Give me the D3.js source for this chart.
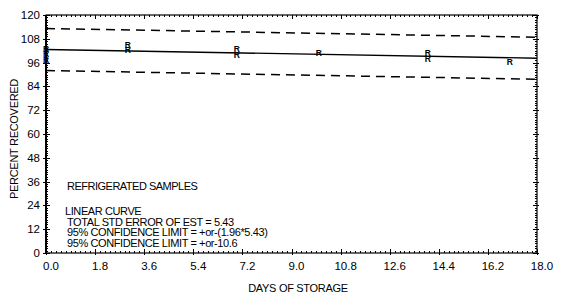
<!DOCTYPE html>
<html><head><meta charset="utf-8">
<script src="https://cdn.jsdelivr.net/npm/d3@7"></script>
<style>body{margin:0;background:#fff}svg{display:block}text{font-family:"Liberation Sans",Arial,sans-serif;fill:#000}</style>
</head><body><svg id="c" width="561" height="298"></svg>
<script>
const days = [0, 0, 0, 3, 3, 7, 7, 10, 14, 14, 17];
const recovered = [103, 100.5, 97.5, 105, 102.5, 103, 100, 101, 101, 98, 96.5];
const fitStart = 102.6, fitEnd = 98.2, confLimit = 10.6;
const xTicks = [0, 1.8, 3.6, 5.4, 7.2, 9.0, 10.8, 12.6, 14.4, 16.2, 18.0];
const yTicks = [0, 12, 24, 36, 48, 60, 72, 84, 96, 108, 120];
const notes = ["LINEAR CURVE", "TOTAL STD ERROR OF EST = 5.43", "95% CONFIDENCE LIMIT = +or-(1.96*5.43)", "95% CONFIDENCE LIMIT = +or-10.6"];

const svg = d3.select("#c");
const L = 46, R = 537, T = 15, B = 253;
const x = d3.scaleLinear().domain([0, 18]).range([L, R]);
const y = d3.scaleLinear().domain([0, 120]).range([B, T]);

// frame
svg.append("rect").attr("x", L).attr("y", T).attr("width", R - L).attr("height", B - T)
  .attr("fill", "none").attr("stroke", "#000").attr("stroke-width", 1.2);
svg.append("line").attr("x1", L).attr("x2", L).attr("y1", T).attr("y2", B).attr("stroke", "#000").attr("stroke-width", 2);

// minor ticks
const g = svg.append("g").attr("stroke", "#000").attr("stroke-width", 1);
d3.range(0, 120.01, 1.2).forEach(v => {
  const yy = Math.round(y(v)) + 0.5;
  g.append("line").attr("x1", L).attr("x2", L + 2).attr("y1", yy).attr("y2", yy);
  g.append("line").attr("x1", R - 2).attr("x2", R).attr("y1", yy).attr("y2", yy);
});
d3.range(0, 18.001, 0.18).forEach(v => {
  const xx = Math.round(x(v)) + 0.5;
  g.append("line").attr("x1", xx).attr("x2", xx).attr("y1", B - 2).attr("y2", B);
  g.append("line").attr("x1", xx).attr("x2", xx).attr("y1", T).attr("y2", T + 2);
});
// major ticks
yTicks.forEach(v => {
  const yy = Math.round(y(v)) + 0.5;
  g.append("line").attr("x1", L - 3).attr("x2", L + 4).attr("y1", yy).attr("y2", yy);
  g.append("line").attr("x1", R - 4).attr("x2", R + 2).attr("y1", yy).attr("y2", yy);
});
xTicks.forEach(v => {
  const xx = Math.round(x(v)) + 0.5;
  g.append("line").attr("x1", xx).attr("x2", xx).attr("y1", B - 4).attr("y2", B + 2);
  g.append("line").attr("x1", xx).attr("x2", xx).attr("y1", T).attr("y2", T + 4);
});

// tick labels
svg.append("g").selectAll("text").data(yTicks).join("text")
  .attr("x", 40).attr("y", d => y(d)).attr("dy", "0.35em").attr("text-anchor", "end")
  .attr("font-size", 11.5).text(d => d);
svg.append("g").selectAll("text").data(xTicks).join("text")
  .attr("x", d => x(d) + 5).attr("y", 266).attr("dy", "0.35em").attr("text-anchor", "middle")
  .attr("font-size", 11.5).text(d => d.toFixed(1));

// axis titles
svg.append("text").attr("x", 298).attr("y", 288).attr("dy", "0.35em").attr("text-anchor", "middle")
  .attr("font-size", 11).attr("letter-spacing", -0.3).text("DAYS OF STORAGE");
svg.append("text").attr("transform", "translate(14,139) rotate(-90)").attr("dy", "0.35em")
  .attr("text-anchor", "middle").attr("font-size", 11).attr("letter-spacing", -0.3).text("PERCENT RECOVERED");

// fit and confidence lines
const fit = [[0, fitStart], [18, fitEnd]];
const line = d3.line().x(d => x(d[0])).y(d => y(d[1]));
svg.append("path").datum(fit).attr("d", line).attr("fill", "none").attr("stroke", "#000").attr("stroke-width", 1.3);
[confLimit, -confLimit].forEach(c => {
  svg.append("path").datum(fit.map(d => [d[0], d[1] + c])).attr("d", line)
    .attr("fill", "none").attr("stroke", "#000").attr("stroke-width", 1.5).attr("stroke-dasharray", "9,6");
});

// points
svg.append("g").selectAll("text").data(days.map((d, i) => [d, recovered[i]])).join("text")
  .attr("x", d => x(d[0])).attr("y", d => y(d[1])).attr("dy", "0.35em").attr("text-anchor", "middle")
  .attr("font-size", 8.5).attr("font-weight", "bold").text("R");

// annotations
svg.append("text").attr("x", 67).attr("y", 186).attr("dy", "0.35em").attr("font-size", 11)
  .attr("letter-spacing", -0.5).text("REFRIGERATED SAMPLES");
svg.append("g").selectAll("text").data(notes).join("text")
  .attr("x", (d, i) => i === 0 ? 65 : 67).attr("y", (d, i) => 211 + i * 10.7).attr("dy", "0.35em")
  .attr("font-size", 11).attr("letter-spacing", -0.4).text(d => d);
</script></body></html>
